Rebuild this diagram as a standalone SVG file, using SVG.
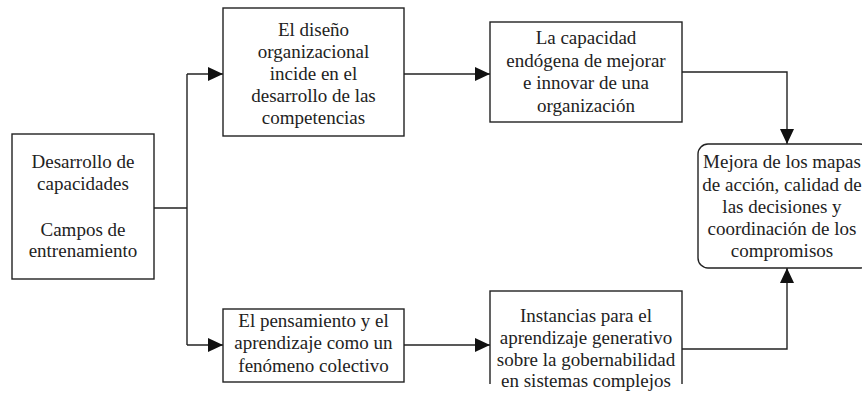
<svg xmlns="http://www.w3.org/2000/svg" width="862" height="395" viewBox="0 0 862 395">
<style>
.box{fill:#fff;stroke:#222;stroke-width:1.4}
.t{font-family:'Liberation Serif','DejaVu Serif',serif;font-size:19px;fill:#222;text-anchor:middle}
.c{fill:none;stroke:#222;stroke-width:1.4}
</style>
<defs>
<marker id="ah" markerUnits="userSpaceOnUse" markerWidth="16" markerHeight="14" refX="15" refY="7" orient="auto">
<path d="M0,0 L15,7 L0,14 z" fill="#111"/>
</marker>
<clipPath id="clipb"><rect x="0" y="0" width="862" height="384"/></clipPath>
</defs>
<g id="connectors">
<path class="c" d="M154,208 H187"/>
<path class="c" d="M187,74 V345"/>
<path class="c" d="M187,74 H223" marker-end="url(#ah)"/>
<path class="c" d="M187,345 H223" marker-end="url(#ah)"/>
<path class="c" d="M404,74 H490" marker-end="url(#ah)"/>
<path class="c" d="M682,72 H787 V144" marker-end="url(#ah)"/>
<path class="c" d="M404,345 H490" marker-end="url(#ah)"/>
<path class="c" d="M682,349 H787 V268" marker-end="url(#ah)"/>
</g>
<g id="n1">
<rect class="box" x="12" y="134" width="142" height="145"/>
<text class="t" x="83" y="168">Desarrollo de</text>
<text class="t" x="83" y="190">capacidades</text>
<text class="t" x="83" y="236">Campos de</text>
<text class="t" x="83" y="257">entrenamiento</text>
</g>
<g id="n2">
<rect class="box" x="223" y="8" width="181" height="128"/>
<text class="t" x="313.5" y="35.5">El diseño</text>
<text class="t" x="313.5" y="57.5">organizacional</text>
<text class="t" x="313.5" y="79.5">incide en el</text>
<text class="t" x="313.5" y="101.5">desarrollo de las</text>
<text class="t" x="313.5" y="123.5">competencias</text>
</g>
<g id="n3">
<rect class="box" x="490" y="22" width="192" height="100"/>
<text class="t" x="586" y="44">La capacidad</text>
<text class="t" x="586" y="66.5">endógena de mejorar</text>
<text class="t" x="586" y="89">e innovar de una</text>
<text class="t" x="586" y="111.5">organización</text>
</g>
<g id="n4">
<rect class="box" x="223" y="309" width="181" height="73"/>
<text class="t" x="313.5" y="327">El pensamiento y el</text>
<text class="t" x="313.5" y="349">aprendizaje como un</text>
<text class="t" x="313.5" y="371.5">fenómeno colectivo</text>
</g>
<g id="n5">
<rect class="box" x="490" y="291" width="192" height="120" clip-path="url(#clipb)"/>
<text class="t" x="586" y="322">Instancias para el</text>
<text class="t" x="586" y="344">aprendizaje generativo</text>
<text class="t" x="586" y="366">sobre la gobernabilidad</text>
<text class="t" x="586" y="387">en sistemas complejos</text>
</g>
<g id="n6">
<rect class="box" x="698" y="144" width="172" height="124" rx="10"/>
<text class="t" x="782" y="168">Mejora de los mapas</text>
<text class="t" x="782" y="190.5">de acción, calidad de</text>
<text class="t" x="782" y="213">las decisiones y</text>
<text class="t" x="782" y="235">coordinación de los</text>
<text class="t" x="782" y="257">compromisos</text>
</g>
</svg>
